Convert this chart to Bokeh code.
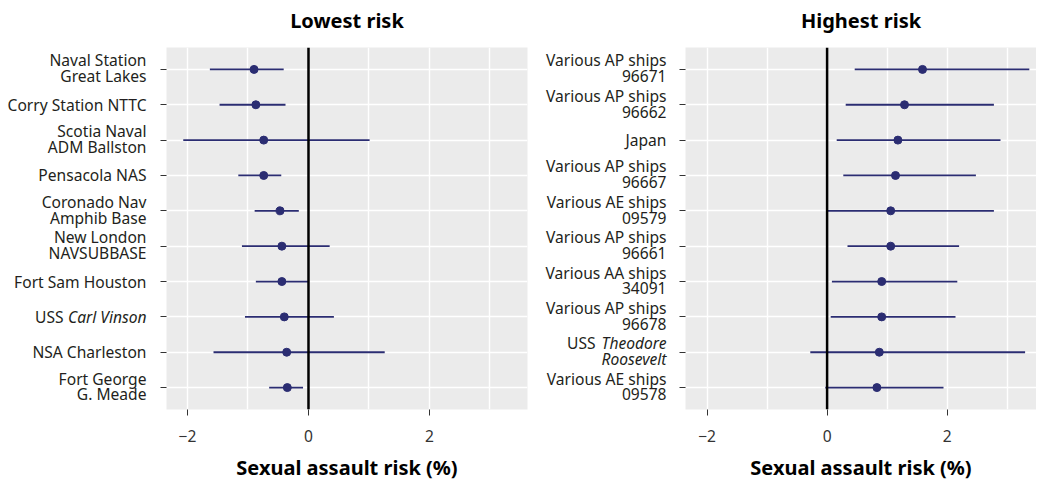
from bokeh.plotting import figure
from bokeh.layouts import row
from bokeh.models import FixedTicker, Span, ColumnDataSource, Title
from bokeh.core.properties import value
from bokeh.embed import file_html
from bokeh.resources import INLINE

# ---- data (top to bottom) ----
low_labels = ["Naval Station\nGreat Lakes", "Corry Station NTTC", "Scotia Naval\nADM Ballston",
              "Pensacola NAS", "Coronado Nav\nAmphib Base", "New London\nNAVSUBBASE",
              "Fort Sam Houston", "USS Carl Vinson", "NSA Charleston", "Fort George\nG. Meade"]
low_est = [-0.90, -0.87, -0.74, -0.74, -0.47, -0.44, -0.44, -0.40, -0.36, -0.35]
low_lo = [-1.63, -1.47, -2.07, -1.16, -0.89, -1.10, -0.87, -1.05, -1.57, -0.65]
low_hi = [-0.41, -0.38, 1.01, -0.45, -0.16, 0.35, 0.00, 0.42, 1.26, -0.09]

high_labels = ["Various AP ships\n96671", "Various AP ships\n96662", "Japan",
               "Various AP ships\n96667", "Various AE ships\n09579", "Various AP ships\n96661",
               "Various AA ships\n34091", "Various AP ships\n96678", "USS Theodore\nRoosevelt",
               "Various AE ships\n09578"]
high_est = [1.59, 1.29, 1.18, 1.14, 1.06, 1.06, 0.91, 0.91, 0.87, 0.83]
high_lo = [0.46, 0.31, 0.16, 0.27, 0.01, 0.34, 0.08, 0.06, -0.28, -0.03]
high_hi = [3.37, 2.78, 2.89, 2.48, 2.78, 2.20, 2.17, 2.14, 3.30, 1.94]

# italic words inside the labels (ship names)
italic_words = ["Carl Vinson", "Theodore", "Roosevelt"]

x_ticks = [-2, 0, 2]
x_minor = [-1, 1, 3]
x_tick_labels = {-2: "\u22122", 0: "0", 2: "2"}

FONT = "Noto Sans"
NAVY = "#2b2d72"
GRAY = "#333333"
TXT = "#231f20"
FS = "15.6px"
H = 483
TOP = 47
BOTTOM = H - 410
LINE_UP = 0.255          # offsets of two-line labels, in row units
LINE_DOWN = 0.195
PREFIX_GAP = {"Carl Vinson": 83, "Theodore": 71}   # px between roman prefix and italic word


def label_figure(labels, width, right_edge):
    n = len(labels)
    ys = [n - i for i in range(n)]
    xs, yy, tx, st = [], [], [], []

    def add_line(y, line):
        ital = [w for w in italic_words if line.endswith(w)]
        if ital:
            w = ital[0]
            prefix = line[: -len(w)].strip()
            xs.append(right_edge); yy.append(y); tx.append(w); st.append("italic")
            if prefix:
                xs.append(right_edge - PREFIX_GAP[w]); yy.append(y); tx.append(prefix); st.append("normal")
        else:
            xs.append(right_edge); yy.append(y); tx.append(line); st.append("normal")

    for y, lab in zip(ys, labels):
        lines = lab.split("\n")
        if len(lines) == 1:
            add_line(y, lines[0])
        else:
            add_line(y + LINE_UP, lines[0])
            add_line(y - LINE_DOWN, lines[1])

    f = figure(width=width, height=H, x_range=(0, width), y_range=(0.38, n + 0.62),
               x_axis_type=None, y_axis_type=None, output_backend="svg",
               toolbar_location=None, min_border_left=0, min_border_right=0,
               min_border_top=TOP, min_border_bottom=BOTTOM)
    f.outline_line_color = None
    f.background_fill_color = "white"
    f.border_fill_color = "white"
    f.grid.visible = False
    src = ColumnDataSource(dict(x=xs, y=yy, text=tx, style=st))
    f.text(x="x", y="y", text="text", source=src, text_align="right",
           text_baseline="middle", text_font=value(FONT), text_font_size=value(FS),
           text_font_style="style", text_color=TXT)
    return f


def make_panel(title, labels, est, lo, hi, width, border_right, xr):
    n = len(labels)
    ys = [n - i for i in range(n)]
    p = figure(width=width, height=H, x_range=xr, y_range=(0.38, n + 0.62),
               output_backend="svg", toolbar_location=None,
               min_border_left=10, min_border_right=border_right,
               min_border_top=TOP, min_border_bottom=BOTTOM)
    # spacer (nearest to the frame), then the real title above it
    p.add_layout(Title(text=" ", text_font_size="1px", standoff=8), "above")
    p.add_layout(Title(text=title, align="center", vertical_align="top",
                       text_font=FONT, text_font_size="20px", text_font_style="bold",
                       text_color="black", standoff=2), "above")
    p.background_fill_color = "#ebebeb"
    p.border_fill_color = "white"
    p.outline_line_color = None

    xa = p.xaxis[0]
    xa.ticker = FixedTicker(ticks=x_ticks, minor_ticks=x_minor)
    xa.major_label_overrides = x_tick_labels
    xa.axis_line_color = None
    xa.major_tick_in = 0
    xa.major_tick_out = 6
    xa.major_tick_line_color = GRAY
    xa.minor_tick_line_color = None
    xa.major_label_standoff = 14
    xa.major_label_text_font = FONT
    xa.major_label_text_font_size = FS
    xa.major_label_text_color = GRAY
    xa.axis_label = "Sexual assault risk (%)"
    xa.axis_label_text_font = FONT
    xa.axis_label_text_font_size = "20px"
    xa.axis_label_text_font_style = "bold"
    xa.axis_label_text_color = "black"
    xa.axis_label_standoff = 9

    ya = p.yaxis[0]
    ya.ticker = FixedTicker(ticks=ys)
    ya.major_label_overrides = {y: "" for y in ys}
    ya.axis_line_color = None
    ya.major_tick_in = 0
    ya.major_tick_out = 6
    ya.major_tick_line_color = GRAY
    ya.minor_tick_line_color = None
    ya.major_label_standoff = 0

    p.xgrid.grid_line_color = "white"
    p.xgrid.grid_line_width = 1.4
    p.xgrid.minor_grid_line_color = "white"
    p.xgrid.minor_grid_line_width = 1.4
    p.ygrid.grid_line_color = "white"
    p.ygrid.grid_line_width = 1.4

    src = ColumnDataSource(dict(y=ys, est=est, lo=lo, hi=hi))
    p.segment(x0="lo", y0="y", x1="hi", y1="y", source=src, line_color=NAVY, line_width=1.8)
    p.scatter(x="est", y="y", source=src, size=8, fill_color=NAVY, line_color=NAVY)
    p.add_layout(Span(location=0, dimension="height", line_color="black", line_width=2.5))
    return p


lab1 = label_figure(low_labels, 156, 146)
p1 = make_panel("Lowest risk", low_labels, low_est, low_lo, low_hi, 379, 8, (-2.347, 3.62))
lab2 = label_figure(high_labels, 140, 131)
p2 = make_panel("Highest risk", high_labels, high_est, high_lo, high_hi, 361, 0, (-2.36, 3.49))

layout = row(lab1, p1, lab2, p2)
open("out.html", "w").write(file_html(layout, INLINE))
